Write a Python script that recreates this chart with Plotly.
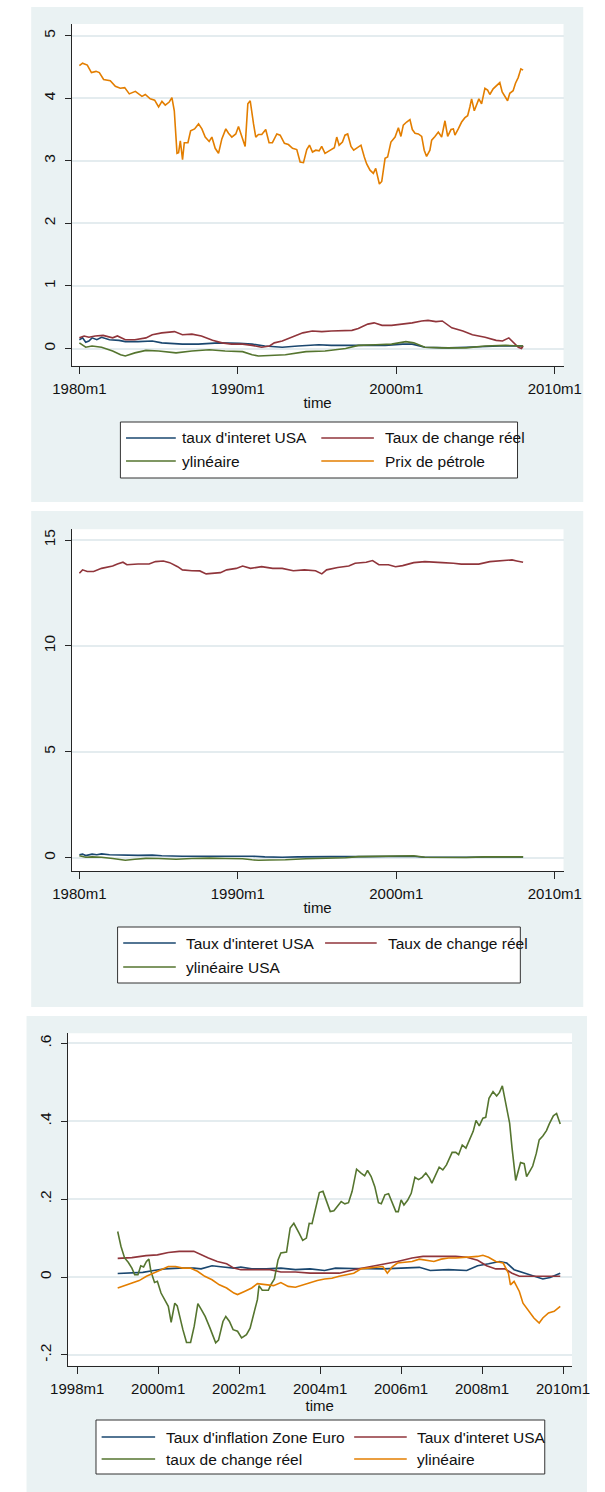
import plotly.graph_objects as go

# ---------------- DATA ----------------
# Panel 1 : Prix de pétrole (log)
oil_t = [1980.00,1980.20,1980.50,1980.76,1981.05,1981.26,1981.53,1981.95,1982.27,1982.58,
         1982.86,1983.15,1983.53,1983.95,1984.16,1984.47,1984.75,1985.00,1985.21,1985.42,
         1985.67,1985.84,1985.99,1986.16,1986.26,1986.37,1986.51,1986.62,1986.85,1987.02,
         1987.27,1987.52,1987.73,1987.94,1988.19,1988.36,1988.57,1988.78,1988.99,1989.24,
         1989.41,1989.62,1989.87,1990.04,1990.25,1990.46,1990.63,1990.78,1990.99,1991.13,
         1991.30,1991.51,1991.76,1991.97,1992.18,1992.46,1992.67,1992.94,1993.19,1993.45,
         1993.72,1993.93,1994.14,1994.35,1994.52,1994.71,1994.92,1995.13,1995.29,1995.50,
         1995.76,1995.92,1996.09,1996.24,1996.39,1996.60,1996.76,1996.93,1997.14,1997.31,
         1997.50,1997.77,1997.98,1998.13,1998.34,1998.55,1998.70,1998.82,1998.93,1999.08,
         1999.29,1999.45,1999.66,1999.92,2000.13,2000.29,2000.44,2000.65,2000.86,2001.01,
         2001.18,2001.39,2001.60,2001.76,2001.91,2002.12,2002.23,2002.44,2002.65,2002.86,
         2003.07,2003.24,2003.45,2003.60,2003.70,2003.91,2004.12,2004.33,2004.50,2004.64,
         2004.75,2004.92,2005.06,2005.21,2005.38,2005.59,2005.76,2005.90,2006.11,2006.32,
         2006.53,2006.68,2006.85,2007.02,2007.16,2007.37,2007.52,2007.69,2007.86,2008.00]
oil_v = [4.52,4.56,4.53,4.41,4.43,4.41,4.30,4.28,4.19,4.16,
         4.17,4.07,4.11,4.03,4.06,3.99,3.97,3.86,3.95,3.89,
         3.94,4.01,3.80,3.12,3.13,3.32,3.02,3.29,3.29,3.48,
         3.51,3.59,3.51,3.38,3.31,3.38,3.20,3.12,3.35,3.51,
         3.44,3.38,3.43,3.55,3.39,3.23,3.91,3.96,3.59,3.38,
         3.42,3.42,3.50,3.29,3.29,3.43,3.41,3.28,3.26,3.20,
         3.18,2.98,2.97,3.18,3.25,3.14,3.17,3.16,3.23,3.12,
         3.16,3.18,3.21,3.38,3.25,3.30,3.41,3.43,3.23,3.17,
         3.20,3.25,3.06,2.95,2.85,2.80,2.88,2.77,2.63,2.67,
         3.04,3.06,3.30,3.38,3.53,3.39,3.57,3.62,3.66,3.50,
         3.44,3.43,3.39,3.17,3.07,3.17,3.33,3.39,3.46,3.38,
         3.64,3.39,3.50,3.51,3.41,3.51,3.62,3.69,3.72,3.86,
         3.99,3.80,3.90,3.99,3.91,4.16,4.13,4.06,4.15,4.20,
         4.25,4.10,4.04,3.96,4.08,4.12,4.24,4.33,4.47,4.45]

# Panel 1 : Taux de change réel
rer1_t = [1980.0,1980.3,1980.6,1981.0,1981.5,1982.1,1982.4,1982.9,1983.5,1984.2,
          1984.6,1985.2,1986.0,1986.5,1987.1,1987.7,1988.4,1989.0,1989.6,1990.3,
          1990.9,1991.5,1992.0,1992.3,1992.8,1993.4,1994.1,1994.7,1995.3,1995.9,
          1996.6,1997.2,1997.6,1998.2,1998.6,1999.1,1999.7,2000.4,2001.0,2001.6,
          2002.0,2002.5,2002.9,2003.5,2004.2,2004.8,2005.2,2005.6,2006.3,2006.7,
          2007.1,2007.4,2007.7,2007.9,2008.0]
rer1_v = [0.17,0.20,0.18,0.20,0.21,0.17,0.20,0.14,0.14,0.17,
          0.22,0.25,0.27,0.22,0.23,0.20,0.13,0.09,0.07,0.07,
          0.05,0.02,0.04,0.09,0.12,0.18,0.25,0.28,0.27,0.28,
          0.28,0.29,0.32,0.39,0.41,0.37,0.37,0.39,0.41,0.44,
          0.45,0.43,0.44,0.33,0.28,0.22,0.20,0.18,0.13,0.12,
          0.17,0.09,0.02,0.00,0.04]

# Panels 1 & 2 : taux d'interet USA
rate_t = [1980.0,1980.2,1980.4,1980.6,1980.8,1981.1,1981.4,1981.9,1982.5,1982.9,
          1983.7,1984.6,1985.2,1986.5,1987.5,1988.8,1990.1,1990.9,1991.7,1992.8,
          1993.8,1995.1,1995.9,1998.0,1999.3,2000.4,2001.0,2001.8,2003.3,2004.4,
          2005.6,2006.5,2008.0]
rate_v = [0.14,0.17,0.10,0.12,0.17,0.14,0.18,0.14,0.13,0.11,
          0.11,0.12,0.09,0.07,0.07,0.09,0.085,0.07,0.04,0.02,
          0.04,0.06,0.05,0.05,0.05,0.07,0.07,0.02,0.01,0.02,
          0.03,0.04,0.04]

# Panels 1 & 2 : ylinéaire (USA)
ylin_t = [1980.0,1980.4,1980.8,1981.4,1982.1,1982.6,1982.9,1983.5,1984.2,1985.0,
          1986.1,1987.1,1988.2,1989.2,1990.3,1990.9,1991.3,1992.0,1993.0,1994.3,
          1995.5,1996.8,1997.6,1998.7,1999.7,2000.6,2001.1,2001.8,2002.9,2004.4,
          2005.6,2006.9,2008.0]
ylin_v = [0.09,0.02,0.04,0.02,-0.04,-0.10,-0.12,-0.07,-0.03,-0.04,
          -0.07,-0.04,-0.02,-0.04,-0.05,-0.10,-0.12,-0.11,-0.10,-0.05,
          -0.04,0.00,0.05,0.06,0.07,0.11,0.09,0.02,0.01,0.01,
          0.04,0.05,0.04]

# Panel 2 : Taux de change réel (niveau)
rer2_t = [1980.0,1980.2,1980.5,1980.9,1981.4,1981.7,1982.1,1982.4,1982.75,1983.0,
          1983.7,1984.4,1984.8,1985.3,1985.7,1986.2,1986.5,1987.1,1987.6,1988.0,
          1988.5,1988.9,1989.3,1989.9,1990.3,1990.8,1991.5,1992.2,1992.8,1993.5,
          1994.2,1994.9,1995.3,1995.6,1996.3,1997.0,1997.4,1998.1,1998.5,1998.9,
          1999.5,1999.95,2000.4,2001.1,2001.8,2002.2,2002.9,2003.6,2004.1,2004.8,
          2005.2,2005.9,2006.6,2007.3,2007.6,2008.0]
rer2_v = [13.43,13.59,13.51,13.51,13.66,13.70,13.77,13.87,13.95,13.83,
          13.87,13.87,13.98,14.01,13.93,13.74,13.59,13.55,13.54,13.40,
          13.43,13.46,13.59,13.66,13.77,13.66,13.74,13.66,13.66,13.55,
          13.59,13.55,13.40,13.59,13.70,13.77,13.90,13.95,14.03,13.83,
          13.83,13.74,13.79,13.93,13.98,13.95,13.93,13.90,13.86,13.87,
          13.86,13.98,14.01,14.06,14.01,13.95]

# Panel 3 : taux de change réel
chg3_t = [1999.00,1999.08,1999.17,1999.26,1999.35,1999.42,1999.50,1999.57,1999.64,1999.71,
          1999.77,1999.82,1999.91,1999.98,2000.07,2000.16,2000.25,2000.32,2000.41,2000.47,
          2000.53,2000.61,2000.70,2000.80,2000.89,2000.98,2001.07,2001.16,2001.28,2001.42,
          2001.49,2001.60,2001.67,2001.76,2001.85,2001.96,2002.06,2002.18,2002.27,2002.36,
          2002.45,2002.49,2002.57,2002.72,2002.78,2002.87,2002.96,2003.03,2003.17,2003.26,
          2003.35,2003.48,2003.57,2003.66,2003.73,2003.80,2003.89,2003.98,2004.07,2004.16,
          2004.25,2004.34,2004.43,2004.52,2004.61,2004.70,2004.79,2004.90,2005.01,2005.10,
          2005.17,2005.26,2005.35,2005.44,2005.51,2005.60,2005.69,2005.78,2005.87,2005.93,
          2006.00,2006.07,2006.16,2006.25,2006.34,2006.43,2006.52,2006.61,2006.70,2006.76,
          2006.85,2006.94,2007.03,2007.12,2007.26,2007.35,2007.42,2007.51,2007.60,2007.69,
          2007.78,2007.85,2007.93,2008.02,2008.09,2008.17,2008.27,2008.36,2008.43,2008.50,
          2008.59,2008.68,2008.74,2008.83,2008.89,2008.95,2009.04,2009.10,2009.19,2009.25,
          2009.34,2009.41,2009.50,2009.59,2009.66,2009.76,2009.84,2009.93]
chg3_v = [0.117,0.079,0.049,0.038,0.023,0.006,0.006,0.029,0.026,0.040,
          0.046,0.015,-0.014,-0.011,-0.041,-0.058,-0.075,-0.116,-0.067,-0.074,
          -0.101,-0.135,-0.168,-0.168,-0.126,-0.068,-0.084,-0.101,-0.131,-0.169,
          -0.162,-0.114,-0.101,-0.114,-0.135,-0.139,-0.156,-0.148,-0.131,-0.094,
          -0.058,-0.022,-0.034,-0.034,-0.020,-0.005,0.044,0.062,0.064,0.126,
          0.138,0.113,0.094,0.100,0.138,0.137,0.181,0.217,0.220,0.194,
          0.168,0.170,0.181,0.194,0.188,0.191,0.220,0.277,0.267,0.260,
          0.274,0.258,0.232,0.191,0.188,0.211,0.214,0.191,0.168,0.168,
          0.198,0.185,0.197,0.215,0.256,0.250,0.256,0.267,0.254,0.241,
          0.260,0.282,0.275,0.288,0.320,0.320,0.314,0.339,0.331,0.352,
          0.374,0.402,0.388,0.408,0.410,0.459,0.476,0.465,0.474,0.491,
          0.438,0.395,0.331,0.248,0.271,0.294,0.291,0.258,0.274,0.285,
          0.318,0.352,0.362,0.376,0.393,0.414,0.420,0.393]

# Panel 3 : Taux d'interet USA
rate3_t = [1999.00,1999.35,1999.70,1999.98,2000.25,2000.52,2000.88,2001.06,2001.24,2001.46,
           2001.69,2001.87,2002.04,2002.40,2002.76,2003.03,2003.39,2003.75,2004.11,2004.47,
           2004.83,2005.19,2005.55,2005.91,2006.27,2006.54,2006.90,2007.35,2007.62,2007.89,
           2008.11,2008.34,2008.56,2008.74,2008.92,2009.33,2009.93]
rate3_v = [0.048,0.050,0.055,0.057,0.063,0.066,0.066,0.057,0.049,0.040,
           0.034,0.023,0.019,0.019,0.019,0.013,0.013,0.010,0.010,0.010,
           0.019,0.026,0.032,0.040,0.049,0.053,0.053,0.053,0.051,0.043,
           0.029,0.021,0.021,0.010,0.002,0.002,0.002]

# Panel 3 : Taux d'inflation Zone Euro
infl3_t = [1999.00,1999.26,1999.62,1999.89,2000.16,2000.52,2000.88,2001.06,2001.33,2001.60,
           2001.87,2002.04,2002.31,2002.67,2003.03,2003.39,2003.75,2004.11,2004.38,2004.83,
           2005.19,2005.55,2006.00,2006.45,2006.72,2007.17,2007.62,2007.89,2008.16,2008.43,
           2008.61,2008.79,2009.06,2009.33,2009.50,2009.68,2009.93]
infl3_v = [0.009,0.010,0.012,0.017,0.021,0.023,0.023,0.021,0.029,0.026,
           0.023,0.026,0.021,0.021,0.023,0.019,0.021,0.017,0.023,0.022,
           0.022,0.021,0.023,0.025,0.017,0.019,0.017,0.029,0.034,0.040,
           0.036,0.019,0.010,0.002,-0.005,-0.001,0.010]

# Panel 3 : ylinéaire
ylin3_t = [1999.00,1999.17,1999.35,1999.53,1999.71,1999.89,2000.07,2000.25,2000.43,2000.61,
           2000.79,2000.97,2001.15,2001.33,2001.51,2001.69,2001.87,2001.96,2002.13,2002.31,
           2002.45,2002.67,2002.85,2003.03,2003.21,2003.39,2003.57,2003.75,2003.93,2004.11,
           2004.29,2004.47,2004.65,2004.83,2005.01,2005.19,2005.42,2005.55,2005.66,2005.78,
           2005.91,2006.09,2006.27,2006.45,2006.63,2006.81,2006.99,2007.17,2007.35,2007.62,
           2007.89,2008.02,2008.16,2008.34,2008.52,2008.65,2008.70,2008.79,2008.92,2009.01,
           2009.15,2009.28,2009.41,2009.50,2009.64,2009.78,2009.93]
ylin3_v = [-0.028,-0.022,-0.015,-0.009,0.002,0.010,0.017,0.027,0.027,0.023,
           0.023,0.015,0.002,-0.007,-0.020,-0.028,-0.041,-0.045,-0.037,-0.028,
           -0.017,-0.020,-0.022,-0.014,-0.024,-0.026,-0.020,-0.015,-0.009,-0.005,
           -0.003,0.002,0.006,0.010,0.021,0.023,0.026,0.027,0.010,0.026,
           0.036,0.038,0.040,0.046,0.043,0.040,0.046,0.049,0.049,0.051,
           0.053,0.056,0.051,0.040,0.036,0.010,-0.020,-0.011,-0.037,-0.067,
           -0.088,-0.105,-0.118,-0.105,-0.092,-0.088,-0.075]

# Tick labels
x12_ticks = [1980, 1990, 2000, 2010]
x12_labels = ["1980m1", "1990m1", "2000m1", "2010m1"]
x3_ticks = [1998, 2000, 2002, 2004, 2006, 2008, 2010]
x3_labels = ["1998m1", "2000m1", "2002m1", "2004m1", "2006m1", "2008m1", "2010m1"]
y1_ticks = [0, 1, 2, 3, 4, 5]
y1_labels = ["0", "1", "2", "3", "4", "5"]
y2_ticks = [0, 5, 10, 15]
y2_labels = ["0", "5", "10", "15"]
y3_ticks = [-0.2, 0, 0.2, 0.4, 0.6]
y3_labels = ["-.2", "0", ".2", ".4", ".6"]

legend1 = ["taux d'interet USA", "Taux de change réel", "ylinéaire", "Prix de pétrole"]
legend2 = ["Taux d'interet USA", "Taux de change réel", "ylinéaire USA"]
legend3 = ["Taux d'inflation Zone Euro", "Taux d'interet USA", "taux de change réel", "ylinéaire"]

for a, b in [(oil_t, oil_v), (rer1_t, rer1_v), (rate_t, rate_v), (ylin_t, ylin_v),
             (rer2_t, rer2_v), (chg3_t, chg3_v), (rate3_t, rate3_v), (infl3_t, infl3_v),
             (ylin3_t, ylin3_v)]:
    assert len(a) == len(b), (len(a), len(b))

# ---------------- STYLE ----------------
W, H = 605, 1492
BLUE, RED, GREEN, ORANGE = "#1A476F", "#90353B", "#55752F", "#E37E00"
BG = "#EAF2F3"
GRID = "#E4ECEF"
AX = "#262626"
FONT = "Liberation Sans, Arial, sans-serif"
LW = 1.6


def fx(p):
    return p / W


def fy(p):
    return 1 - p / H


fig = go.Figure()


def add(x, y, color, xa, ya, name):
    fig.add_trace(go.Scatter(x=x, y=y, mode="lines", name=name,
                             line=dict(color=color, width=LW),
                             xaxis=xa, yaxis=ya, showlegend=False,
                             hoverinfo="skip"))


# panel 1
add(rate_t, rate_v, BLUE, "x", "y", legend1[0])
add(rer1_t, rer1_v, RED, "x", "y", legend1[1])
add(ylin_t, ylin_v, GREEN, "x", "y", legend1[2])
add(oil_t, oil_v, ORANGE, "x", "y", legend1[3])
# panel 2
add(rate_t, rate_v, BLUE, "x2", "y2", legend2[0])
add(rer2_t, rer2_v, RED, "x2", "y2", legend2[1])
add(ylin_t, ylin_v, GREEN, "x2", "y2", legend2[2])
# panel 3
add(infl3_t, infl3_v, BLUE, "x3", "y3", legend3[0])
add(rate3_t, rate3_v, RED, "x3", "y3", legend3[1])
add(chg3_t, chg3_v, GREEN, "x3", "y3", legend3[2])
add(ylin3_t, ylin3_v, ORANGE, "x3", "y3", legend3[3])


def xaxis(left, right, rng, tv, tt, anchor):
    return dict(domain=[fx(left), fx(right)], anchor=anchor, range=rng,
                tickmode="array", tickvals=tv, ticktext=tt,
                showgrid=False, zeroline=False, showline=True, mirror=False,
                linecolor=AX, linewidth=1, ticks="outside", ticklen=7,
                tickwidth=1, tickcolor=AX, ticklabelstandoff=2,
                tickfont=dict(family=FONT, size=15, color="#111"),
                title=dict(text="time", standoff=1,
                           font=dict(family=FONT, size=15, color="#111")),
                fixedrange=True)


def yaxis(top, bottom, rng, tv, tt, anchor):
    return dict(domain=[fy(bottom), fy(top)], anchor=anchor, range=rng,
                tickmode="array", tickvals=tv, ticktext=tt, tickangle=-90,
                showgrid=True, gridcolor=GRID, gridwidth=1.6,
                zeroline=False, showline=True, mirror=False,
                linecolor=AX, linewidth=1, ticks="outside", ticklen=6,
                tickwidth=1, tickcolor=AX, ticklabelstandoff=3,
                tickfont=dict(family=FONT, size=15.5, color="#111"),
                fixedrange=True)


# geometry (pixels)
P12_L, P12_R = 56, 580
P3_L, P3_R = 51.7, 589

fig.update_layout(
    width=W, height=H, margin=dict(l=0, r=0, t=0, b=0),
    paper_bgcolor="white", plot_bgcolor="white", showlegend=False,
    font=dict(family=FONT, color="#111"),
    xaxis=xaxis(P12_L, P12_R, [1979.508, 2010.551], x12_ticks, x12_labels, "y"),
    yaxis=yaxis(24, 365.7, [-0.275, 5.187], y1_ticks, y1_labels, "x"),
    xaxis2=xaxis(P12_L, P12_R, [1979.508, 2010.551], x12_ticks, x12_labels, "y2"),
    yaxis2=yaxis(529.3, 871, [-0.628, 15.505], y2_ticks, y2_labels, "x2"),
    xaxis3=xaxis(P3_L, P3_R, [1997.761, 2010.22], x3_ticks, x3_labels, "y3"),
    yaxis3=yaxis(1033.3, 1365.7, [-0.2275, 0.6257], y3_ticks, y3_labels, "x3"),
)

shapes = []
annotations = []


def rect(x0, y0, x1, y1, fill, line=None):
    shapes.append(dict(type="rect", xref="paper", yref="paper", layer="below",
                       x0=fx(x0), x1=fx(x1), y0=fy(y1), y1=fy(y0),
                       fillcolor=fill,
                       line=dict(width=0) if line is None else line))


# outer graph regions + white plot regions
rect(13, 7, 601, 502, BG)
rect(P12_L, 24, P12_R, 365.7, "white")
rect(13, 511, 601, 1007, BG)
rect(P12_L, 529.3, P12_R, 871, "white")
rect(8, 1016, 605, 1492, BG)
rect(P3_L, 1033.3, P3_R, 1365.7, "white")


def legend(box, rows, cols, labels, colors):
    x0, y0, x1, y1 = box
    shapes.append(dict(type="rect", xref="paper", yref="paper", layer="above",
                       x0=fx(x0), x1=fx(x1), y0=fy(y1), y1=fy(y0),
                       fillcolor="white", line=dict(color="#333", width=1)))
    for i, (lab, col) in enumerate(zip(labels, colors)):
        r, c = divmod(i, 2)
        ly = rows[r]
        lx0, lx1, tx = cols[c]
        shapes.append(dict(type="line", xref="paper", yref="paper", layer="above",
                           x0=fx(lx0), x1=fx(lx1), y0=fy(ly), y1=fy(ly),
                           line=dict(color=col, width=LW)))
        annotations.append(dict(xref="paper", yref="paper", x=fx(tx), y=fy(ly),
                                xanchor="left", yanchor="middle", showarrow=False,
                                text=lab, font=dict(family=FONT, size=15.5, color="#111")))


legend((108, 422, 531, 478), [438, 461], [(114, 167, 171), (322, 378, 388)],
       legend1, [BLUE, RED, GREEN, ORANGE])
legend((105, 927, 534, 983), [943, 967], [(111, 167, 176), (326, 381, 391)],
       legend2, [BLUE, RED, GREEN])
legend((82, 1420, 560, 1474), [1437, 1459], [(88, 145, 154), (357, 413, 422)],
       legend3, [BLUE, RED, GREEN, ORANGE])

fig.update_layout(shapes=shapes, annotations=annotations)
fig.write_html("out.html")
